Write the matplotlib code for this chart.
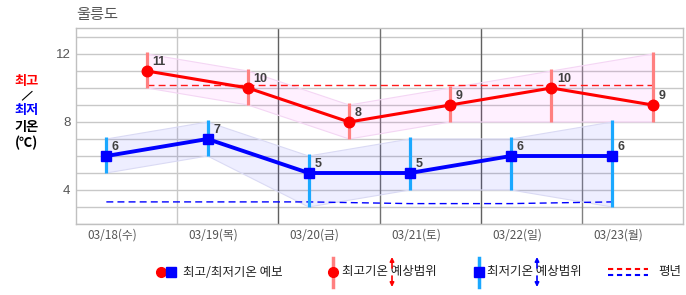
import matplotlib
matplotlib.use("Agg")
import matplotlib.pyplot as plt
import numpy as np

plt.rcParams['font.family'] = ['Noto Sans CJK KR', 'DejaVu Sans']

# ---- data ----
dates = ["03/18(수)", "03/19(목)", "03/20(금)", "03/21(토)", "03/22(일)", "03/23(월)"]
tmax = [11, 10, 8, 9, 10, 9]
tmax_lo = [10, 9, 7, 8, 8, 8]
tmax_hi = [12, 11, 9, 10, 11, 12]
tmin = [6, 7, 5, 5, 6, 6]
tmin_lo = [5, 6, 3, 4, 4, 3]
tmin_hi = [7, 8, 6, 7, 7, 8]
norm_max = [10.2, 10.2, 10.2, 10.2, 10.2, 10.2]
norm_min = [3.3, 3.3, 3.3, 3.2, 3.2, 3.3]
yticks_lab = [4, 8, 12]
title = "울릉도"

W, H = 686, 295
fig = plt.figure(figsize=(W / 100, H / 100), dpi=100)

def fx(px):
    return px / W

def fy(py):
    return 1 - py / H

ax = fig.add_axes([fx(76), fy(224), (683 - 76) / W, (224 - 28) / H])
n = len(dates)
idx = np.arange(n)
xmin_pos = idx + 0.30
xmax_pos = idx + 0.70

ax.set_xlim(0, 6)
ax.set_ylim(2, 2 + 196 / 17)

# grid
for yv in range(2, 14):
    ax.axhline(yv, color='#c8c8c8', lw=1.0, zorder=0)
vcols = ['#c8c8c8', '#606060', '#707070', '#606060', '#808080']
for k, c in zip(range(1, 6), vcols):
    ax.axvline(k, color=c, lw=1.0, zorder=0)

# bands
ax.fill_between(xmax_pos, tmax_lo, tmax_hi, facecolor='#ff00ff', alpha=0.06,
                edgecolor='none', zorder=1)
ax.plot(xmax_pos, tmax_hi, color='#f4d6f4', lw=0.8, zorder=1)
ax.plot(xmax_pos, tmax_lo, color='#f4d6f4', lw=0.8, zorder=1)
ax.fill_between(xmin_pos, tmin_lo, tmin_hi, facecolor='#0000ff', alpha=0.065,
                edgecolor='none', zorder=1)
ax.plot(xmin_pos, tmin_hi, color='#dadaf4', lw=0.8, zorder=1)
ax.plot(xmin_pos, tmin_lo, color='#dadaf4', lw=0.8, zorder=1)

# normals
ax.plot(xmax_pos, norm_max, color='#ff1a1a', lw=1.0, ls=(0, (5, 3)), zorder=2)
ax.plot(xmin_pos, norm_min, color='#0000ff', lw=1.0, ls=(0, (5, 3)), zorder=2)

# range bars
ax.vlines(xmax_pos, tmax_lo, np.array(tmax_hi) + 0.1, color='#ff8080', lw=2.3, zorder=3)
ax.vlines(xmin_pos, tmin_lo, np.array(tmin_hi) + 0.1, color='#1aa8ff', lw=2.3, zorder=3)

# lines
ax.plot(xmax_pos, tmax, color='#ff0000', lw=2.2, marker='o', ms=7.6, zorder=4)
ax.plot(xmin_pos, tmin, color='#0000ff', lw=2.8, marker='s', ms=7.4, zorder=4)

for x, v in zip(xmax_pos, tmax):
    ax.annotate(str(v), (x, v), xytext=(4, 6.5), textcoords='offset points',
                fontsize=9, fontweight='bold', color='#404040',
                family=['Liberation Sans', 'DejaVu Sans'], va='center', ha='left', zorder=5)
for x, v in zip(xmin_pos, tmin):
    ax.annotate(str(v), (x, v), xytext=(4, 6.5), textcoords='offset points',
                fontsize=9, fontweight='bold', color='#404040',
                family=['Liberation Sans', 'DejaVu Sans'], va='center', ha='left', zorder=5)

ax.set_yticks(yticks_lab)
ax.set_yticklabels([str(v) for v in yticks_lab], fontsize=9.5, color='#555555',
                   family=['Liberation Sans', 'DejaVu Sans'])
ax.tick_params(axis='y', length=0, pad=4)
ax.set_xticks(idx + 0.36)
ax.set_xticklabels(dates, fontsize=8.5, color='#555555')
ax.tick_params(axis='x', length=0, pad=3)
for s in ax.spines.values():
    s.set_color('#c0c0c0')
    s.set_linewidth(1.0)

# title
fig.text(fx(76), fy(15), title, fontsize=11, color='#555555', ha='left', va='center')

# overlay for left label and legend
lg = fig.add_axes([0, 0, 1, 1], facecolor='none')
lg.set_xlim(0, W)
lg.set_ylim(H, 0)
lg.axis('off')

lg.text(27, 80.5, "최고", color='#ff0000', fontsize=9.5, fontweight='bold', ha='center', va='center')
lg.plot([22.5, 32], [100, 91.5], color='#000000', lw=0.8)
lg.text(27, 110, "최저", color='#0000ff', fontsize=9.5, fontweight='bold', ha='center', va='center')
lg.text(27, 127, "기온", color='#000000', fontsize=9.5, fontweight='bold', ha='center', va='center')
lg.text(27, 143, "(℃)", color='#000000', fontsize=9.5, fontweight='bold', ha='center', va='center')

ly = 272
lg.plot([161], [ly], marker='o', color='#ff0000', ms=7, ls='none')
lg.plot([171], [ly], marker='s', color='#0000ff', ms=6.5, ls='none')
lg.text(183, ly, "최고/최저기온 예보", fontsize=9, color='#222222', va='center', ha='left')

lg.plot([333, 333], [258, 287], color='#ff8080', lw=2.5)
lg.plot([333], [ly], marker='o', color='#ff0000', ms=7, ls='none')
lg.text(342, ly, "최고기온 예상범위", fontsize=9, color='#222222', va='center', ha='left')
for (a, b) in [((392, 257), (392, 268)), ((392, 287), (392, 276))]:
    lg.annotate('', xy=a, xytext=b, arrowprops=dict(arrowstyle='-|>', color='#ff0000', lw=1.2,
                                                      mutation_scale=6, shrinkA=0, shrinkB=0))

lg.plot([479, 479], [258, 287], color='#1aa8ff', lw=2.5)
lg.plot([479], [ly], marker='s', color='#0000ff', ms=6.5, ls='none')
lg.text(487, ly, "최저기온 예상범위", fontsize=9, color='#222222', va='center', ha='left')
for (a, b) in [((537, 257), (537, 268)), ((537, 287), (537, 276))]:
    lg.annotate('', xy=a, xytext=b, arrowprops=dict(arrowstyle='-|>', color='#0000ff', lw=1.2,
                                                      mutation_scale=6, shrinkA=0, shrinkB=0))

lg.plot([608, 648], [269, 269], color='#ff0000', lw=1.5, ls=(0, (2.5, 1.8)))
lg.plot([608, 648], [274.5, 274.5], color='#0000ff', lw=1.5, ls=(0, (2.5, 1.8)))
lg.text(658, ly, "평년", fontsize=9, color='#222222', va='center', ha='left')

fig.savefig("out.png", dpi=100)
